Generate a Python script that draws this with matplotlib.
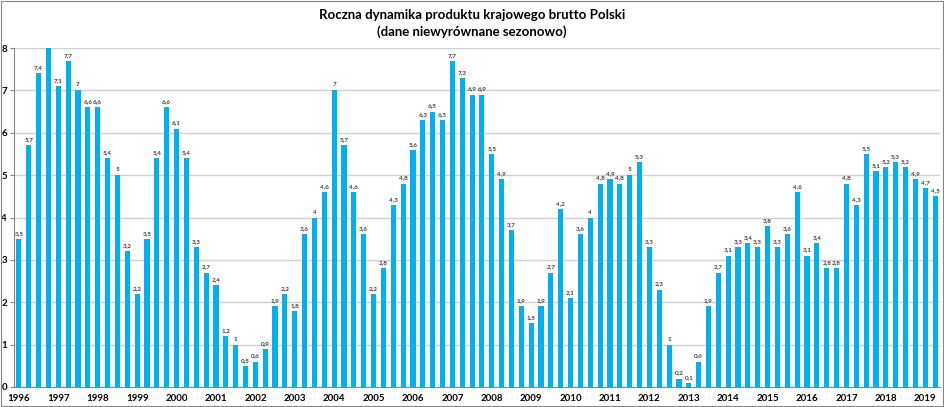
import numpy as np
import matplotlib
matplotlib.use("Agg")
from matplotlib import pyplot as plt

plt.rcParams["font.family"] = ["Lato", "DejaVu Sans"]

# roczna dynamika PKB, kwartały 1996 Q1 - 2019 Q2
lata = list(range(1996, 2020))
pkb = [
    3.5, 5.7, 7.4, 8.1,   # 1996 (Q4 poza skalą)
    7.1, 7.7, 7.0, 6.6,   # 1997
    6.6, 5.4, 5.0, 3.2,   # 1998
    2.2, 3.5, 5.4, 6.6,   # 1999
    6.1, 5.4, 3.3, 2.7,   # 2000
    2.4, 1.2, 1.0, 0.5,   # 2001
    0.6, 0.9, 1.9, 2.2,   # 2002
    1.8, 3.6, 4.0, 4.6,   # 2003
    7.0, 5.7, 4.6, 3.6,   # 2004
    2.2, 2.8, 4.3, 4.8,   # 2005
    5.6, 6.3, 6.5, 6.3,   # 2006
    7.7, 7.3, 6.9, 6.9,   # 2007
    5.5, 4.9, 3.7, 1.9,   # 2008
    1.5, 1.9, 2.7, 4.2,   # 2009
    2.1, 3.6, 4.0, 4.8,   # 2010
    4.9, 4.8, 5.0, 5.3,   # 2011
    3.3, 2.3, 1.0, 0.2,   # 2012
    0.1, 0.6, 1.9, 2.7,   # 2013
    3.1, 3.3, 3.4, 3.3,   # 2014
    3.8, 3.3, 3.6, 4.6,   # 2015
    3.1, 3.4, 2.8, 2.8,   # 2016
    4.8, 4.3, 5.5, 5.1,   # 2017
    5.2, 5.3, 5.2, 4.9,   # 2018
    4.7, 4.5,             # 2019
]

ymax = 8

def etykieta(v):
    if abs(v - round(v)) < 1e-9:
        return str(int(round(v)))
    return ("%.1f" % v).replace(".", ",")

fig = plt.figure(figsize=(9.45, 4.07), dpi=100)
ax = fig.add_axes([14/945, 20/407, 926/945, 339/407])

x = np.arange(len(pkb))
ax.bar(x, pkb, width=0.52, color="#00B0F0", zorder=3)

for xi, v in zip(x, pkb):
    if v <= ymax - 0.05:
        ax.text(xi, v + 0.07, etykieta(v), ha="center", va="bottom",
                fontsize=4.6, fontweight="bold", color="#404040", zorder=4)

ax.set_xlim(-0.5, len(pkb) - 0.5)
ax.set_ylim(0, ymax)
ax.set_yticks(range(0, ymax + 1))
ax.set_xticks(np.arange(len(lata)) * 4)
ax.set_xticklabels([str(r) for r in lata])
ax.tick_params(axis="x", length=0, labelsize=7, pad=5)
ax.tick_params(axis="y", length=3, labelsize=7, pad=2, color="#868686")
for lab in ax.get_xticklabels() + ax.get_yticklabels():
    lab.set_fontweight("bold")

ax.grid(axis="y", color="#D0D0D0", linewidth=1, zorder=0)
for s in ["top", "right"]:
    ax.spines[s].set_visible(False)
ax.spines["left"].set_color("#868686")
ax.spines["bottom"].set_color("#868686")

fig.text(472/945, 1 - 15/407, "Roczna dynamika produktu krajowego brutto Polski",
         ha="center", va="center", fontsize=9.5, fontweight="bold")
fig.text(472/945, 1 - 32/407, "(dane niewyrównane sezonowo)",
         ha="center", va="center", fontsize=9.5, fontweight="bold")

# ramka wykresu
fig.patches.append(plt.Rectangle((1/945, 1/407), 942/945, 405/407, transform=fig.transFigure,
                                 fill=False, edgecolor="#868686", linewidth=0.8))

fig.savefig("out.png", dpi=100)
